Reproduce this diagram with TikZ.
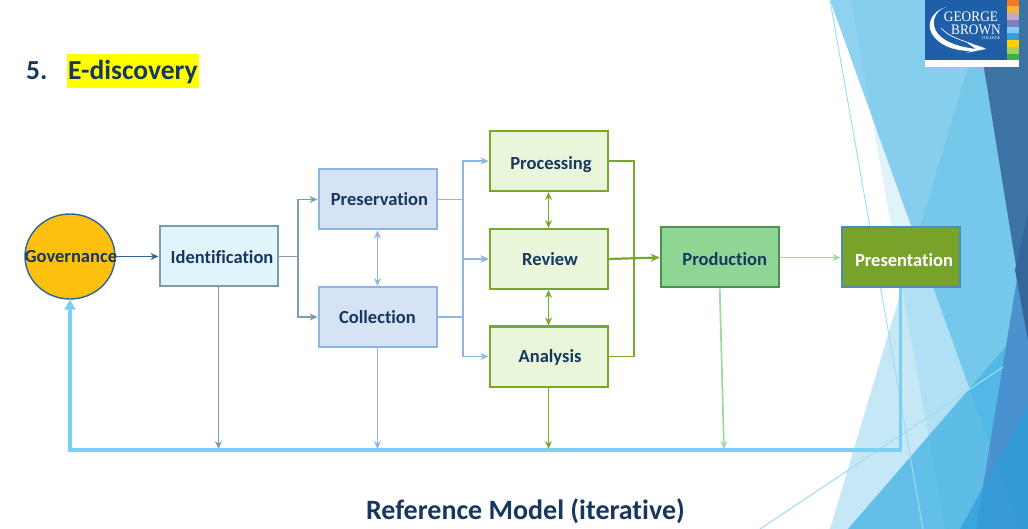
\documentclass[tikz,border=0pt]{standalone}
\usepackage{fontspec}
\setmainfont[Ligatures=NoCommon]{Carlito}
\newfontfamily\logofont[FakeStretch=.92]{Liberation Serif}
\usetikzlibrary{arrows.meta,shapes.geometric}
\definecolor{ink}{HTML}{17375E}
\definecolor{facet}{HTML}{5BBDE8}
\definecolor{facetb}{HTML}{4AB5E5}
\definecolor{facetc}{HTML}{4A90CE}
\definecolor{facetd}{HTML}{2F9FDC}
\definecolor{darka}{HTML}{3B74A3}
\definecolor{darkb}{HTML}{336699}
\definecolor{hairline}{HTML}{A0DCF5}
\definecolor{logoblue}{HTML}{1F5FA8}
\definecolor{sa}{HTML}{F47B20}
\definecolor{sb}{HTML}{FBB040}
\definecolor{sc}{HTML}{C3A6D0}
\definecolor{sd}{HTML}{8080C0}
\definecolor{se}{HTML}{7FCDF2}
\definecolor{sf}{HTML}{3A9BDC}
\definecolor{sg}{HTML}{FFD200}
\definecolor{sh}{HTML}{A6D05A}
\definecolor{si}{HTML}{36B24A}
\definecolor{marker}{HTML}{FFFF00}
\definecolor{govfill}{HTML}{FDC00F}
\definecolor{govline}{HTML}{2F6496}
\definecolor{idfill}{HTML}{E0F4FC}
\definecolor{idline}{HTML}{7D9CAE}
\definecolor{bluefill}{HTML}{D5E3F5}
\definecolor{blueline}{HTML}{8DB4E2}
\definecolor{greenfill}{HTML}{EAF6DA}
\definecolor{greenline}{HTML}{76A82A}
\definecolor{prodfill}{HTML}{8FD694}
\definecolor{prodline}{HTML}{4E9050}
\definecolor{presfill}{HTML}{78A22A}
\definecolor{presline}{HTML}{4A8DB8}
\definecolor{lightgreen}{HTML}{9FDCA5}
\definecolor{feedback}{HTML}{7CD0F3}
\tikzset{
  box/.style={draw,line width=2pt,minimum width=118pt,minimum height=60pt,inner sep=0pt,
    text height=12pt,text depth=0pt,
    font=\fontsize{18.5}{20}\selectfont\bfseries,text=ink},
  idbox/.style={box,draw=idline,fill=idfill},
  bluebox/.style={box,draw=blueline,fill=bluefill},
  greenbox/.style={box,draw=greenline,fill=greenfill},
  conn/.style={line width=1.8pt,-{Stealth[length=8pt,width=7pt]}},
  plain/.style={line width=1.8pt},
  both/.style={line width=1.8pt,{Stealth[length=8pt,width=7pt]}-{Stealth[length=8pt,width=7pt]}},
  logotext/.style={text=white,inner sep=0pt,text height=9pt,text depth=0pt},
  titletext/.style={inner sep=0pt,text=ink,text height=18pt,text depth=0pt},
}
\begin{document}
\begin{tikzpicture}[x=1pt,y=-1pt]
\useasboundingbox (0,0) rectangle (1028,529);
% background facets
\fill[white] (0,0) rectangle (1028,529);
\fill[facet,opacity=.68] (830,0) -- (1028,0) -- (1028,529) -- (1020,529) -- cycle;
\fill[facet,opacity=.19] (851,0) -- (1028,0) -- (1028,529) -- (945,529) -- cycle;
\fill[facet,opacity=.35] (988,0) -- (1028,0) -- (1028,529) -- (830,529) -- cycle;
\fill[facetb,opacity=.8] (848,529) -- (1028,321) -- (1028,529) -- cycle;
\fill[facetc,opacity=.95] (1028,212) -- (976,529) -- (1028,529) -- cycle;
\fill[facetd,opacity=.75] (960,529) -- (1028,405) -- (1028,529) -- cycle;
\fill[darka] (973,0) -- (1028,0) -- (1028,340) -- cycle;
\fill[darkb] (1028,212) -- (1015,270) -- (1028,340) -- cycle;
\draw[line width=1pt,hairline] (830,0) -- (923,529);
\draw[line width=1pt,hairline] (760,529) -- (1003,367);
% logo
\fill[white] (925,0) rectangle (1019,67);
\fill[logoblue] (925,0) rectangle (1007,60);
\fill[sa] (1007,0) rectangle (1019,6);
\fill[sb] (1007,6) rectangle (1019,13);
\fill[sc] (1007,13) rectangle (1019,20);
\fill[sd] (1007,20) rectangle (1019,27);
\fill[se] (1007,27) rectangle (1019,33);
\fill[sf] (1007,33) rectangle (1019,40);
\fill[sg] (1007,40) rectangle (1019,47);
\fill[sh] (1007,47) rectangle (1019,54);
\fill[si] (1007,54) rectangle (1019,60);
\fill[white] (946,7) .. controls (934,11) and (930,24) .. (938,34)
  .. controls (946,43) and (960,47) .. (976,49) -- (966,42) -- (982,47) -- (986,49)
  -- (966,53) -- (971,51) .. controls (952,51) and (938,44) .. (932,34)
  .. controls (926,24) and (932,11) .. (946,7) -- cycle;
\draw[white,line width=.7pt] (941,28) .. controls (948,36) and (958,39) .. (972,44);
\node[logotext,font=\logofont\fontsize{14.5}{14.5}\selectfont] (logoa) at (971,17.5) {GEORGE};
\node[logotext,font=\logofont\fontsize{14.5}{14.5}\selectfont] (logob) at (976,30) {BROWN};
\node[logotext,text height=3pt,font=\logofont\fontsize{4.5}{4.5}\selectfont] (logoc) at (991,38.5) {COLLEGE};
% titles
\fill[marker] (67,54) rectangle (199,88);
\node[anchor=west,titletext,font=\fontsize{27.5}{30}\selectfont\bfseries] (num) at (26,71) {5.};
\node[anchor=west,titletext,font=\fontsize{27.5}{30}\selectfont\bfseries] (title) at (68,71) {E-discovery};
\node[titletext,font=\fontsize{28}{30}\selectfont\bfseries] (caption) at (525.5,510) {Reference Model (iterative)};
% junctions
\coordinate (ja) at (298,256.5);
\coordinate (jb) at (463,199.5);
\coordinate (jc) at (463,317);
\coordinate (je) at (634,356.5);
\coordinate (fb) at (70,450);
\coordinate (ha) at (218.5,449);
\coordinate (hb) at (377.5,449);
\coordinate (hc) at (548.5,449);
\coordinate (hd) at (724,449);
% nodes
\node[draw=govline,fill=govfill,line width=1.4pt,ellipse,minimum width=90pt,minimum height=85pt,inner sep=0pt,
  font=\fontsize{18.5}{20}\selectfont\bfseries,text=ink,text height=12pt,text depth=0pt] (gov) at (70,256.5) {\makebox[0pt]{\hspace*{2pt}Governance}};
\node[idbox,text height=14pt] (ident) at (218.5,256.5) {\hspace*{7pt}Identification};
\node[bluebox] (pres) at (377.5,199.5) {\hspace*{4pt}Preservation};
\node[bluebox,text height=13pt] (coll) at (377.5,317) {Collection};
\node[greenbox,text height=18pt] (proc) at (548.5,161) {\hspace*{5pt}Processing};
\node[greenbox,text height=14pt] (rev) at (548.5,259) {\hspace*{3pt}Review};
\node[greenbox] (ana) at (548.5,356.5) {\hspace*{3pt}Analysis};
\node[box,draw=prodline,fill=prodfill,text height=16pt] (prod) at (719.75,257.5) {\hspace*{10pt}Production};
\node[box,draw=presline,fill=presfill,text=white,text height=18pt] (present) at (900.5,257.5) {\hspace*{7pt}Presentation};
% feedback loop
\draw[line width=3.5pt,feedback,-{Triangle[length=10pt,width=11pt]}]
  (present.south) |- (fb) -- (gov.south);
% connectors
\draw[conn,govline] (gov.east) -- (ident.west);
\draw[plain,idline] (ident.east) -- (ja);
\draw[conn,idline] (ja) |- (pres.west);
\draw[conn,idline] (ja) |- (coll.west);
\draw[conn,idline] (ident.south) -- (ha);
\draw[both,blueline] (pres.south) -- (coll.north);
\draw[conn,blueline] (coll.south) -- (hb);
\draw[plain,blueline] (pres.east) -- (jb);
\draw[plain,blueline] (coll.east) -- (jc);
\draw[conn,blueline] (jb) |- (proc.west);
\draw[conn,blueline] (jb) |- (rev.west);
\draw[conn,blueline] (jc) |- (rev.west);
\draw[conn,blueline] (jc) |- (ana.west);
\draw[both,greenline] (proc.south) -- (rev.north);
\draw[both,greenline] (rev.south) -- (ana.north);
\draw[conn,greenline] (ana.south) -- (hc);
\draw[plain,greenline] (proc.east) -| (je) -- (ana.east);
\draw[line width=2.2pt,greenline,-{Stealth[length=9pt,width=8pt]}] (rev.east) -- (prod.west);
\draw[conn,lightgreen] (prod.east) -- (present.west);
\draw[conn,lightgreen] (prod.south) -- (hd);
\end{tikzpicture}
\end{document}
